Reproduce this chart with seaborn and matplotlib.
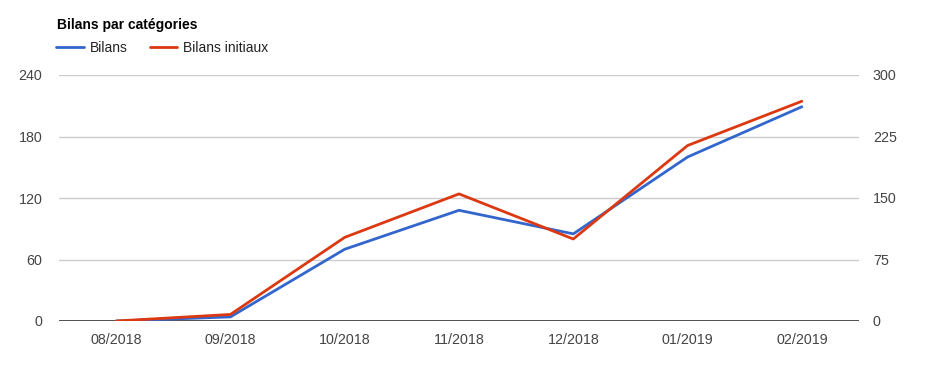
import matplotlib
matplotlib.use("Agg")
import matplotlib.pyplot as plt
import seaborn as sns
import pandas as pd
from matplotlib.lines import Line2D

months = ["08/2018", "09/2018", "10/2018", "11/2018", "12/2018", "01/2019", "02/2019"]
bilans = [0, 4, 70, 108, 85, 160, 209]
bilans_initiaux = [0, 8, 102, 155, 100, 214, 268]
left_ticks = [0, 60, 120, 180, 240]
right_ticks = [0, 75, 150, 225, 300]

sns.set_style("white")
plt.rcParams['font.family'] = ['Liberation Sans', 'DejaVu Sans']

df = pd.DataFrame({"mois": months, "Bilans": bilans, "Bilans initiaux": bilans_initiaux})
df["x"] = range(len(months))

fig = plt.figure(figsize=(9.29, 3.77), dpi=100)
ax = fig.add_axes([59/929, 1-321/377, 800/929, 246/377])
ax2 = ax.twinx()

blue = "#3366cc"
red = "#dc3912"

sns.lineplot(data=df, x="x", y="Bilans", ax=ax, color=blue, linewidth=2, zorder=3)
sns.lineplot(data=df, x="x", y="Bilans initiaux", ax=ax2, color=red, linewidth=2, zorder=3)

ax.set_xlim(-0.5, len(months) - 0.5)
ax.set_ylim(0, 240)
ax2.set_ylim(0, 300)
ax.set_yticks(left_ticks)
ax2.set_yticks(right_ticks)
ax.set_xticks(range(len(months)))
ax.set_xticklabels(months)
for a in (ax, ax2):
    a.set_xlabel("")
    a.set_ylabel("")
    for s in a.spines.values():
        s.set_visible(False)
    a.tick_params(length=0, labelsize=10.3, colors="#444444")
ax.tick_params(axis="y", pad=12)
ax2.tick_params(axis="y", pad=10)
ax.tick_params(axis="x", pad=9)

ax.yaxis.grid(True, color="#cccccc", linewidth=1)
ax.set_axisbelow(True)
ax.axhline(0, color="#333333", linewidth=1.2, zorder=2)
ax2.set_zorder(ax.get_zorder() + 1)
ax2.patch.set_visible(False)

fig.text(57/929, 1-25/377, "Bilans par catégories", fontsize=10, fontweight="bold",
         va="center", ha="left", color="#000000")

handles = [Line2D([], [], color=blue, linewidth=2), Line2D([], [], color=red, linewidth=2)]
fig.legend(handles, ["Bilans", "Bilans initiaux"], loc="center left",
           bbox_to_anchor=(44/929, 1-48/377), ncol=2, frameon=False, fontsize=10,
           handlelength=1.95, handletextpad=0.43, columnspacing=1.65, labelcolor="#222222")

fig.savefig("out.png", dpi=100)
